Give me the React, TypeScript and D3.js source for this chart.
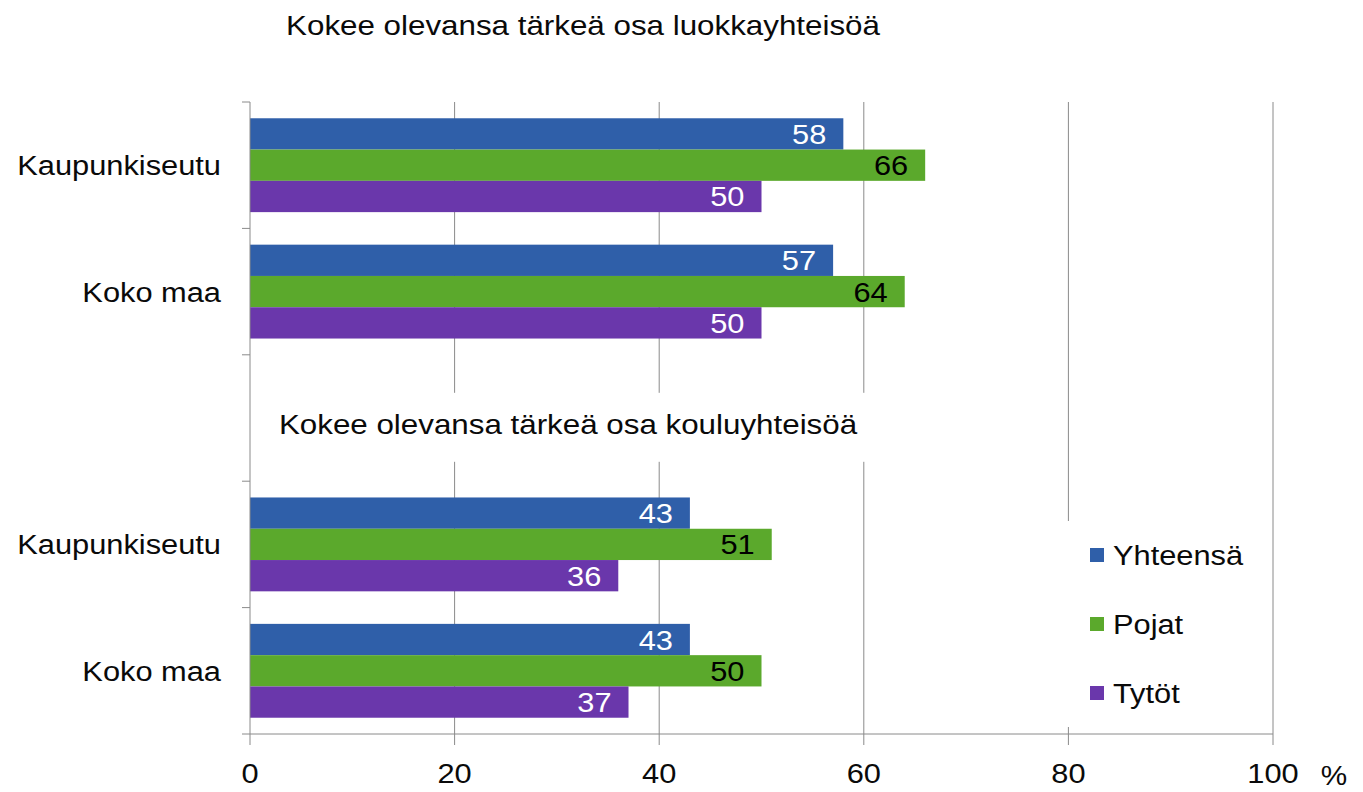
import React from "react";
import * as d3 from "d3";

const categories = ["Kaupunkiseutu", "Koko maa"];
const sectionTitles = [
  "Kokee olevansa tärkeä osa luokkayhteisöä",
  "Kokee olevansa tärkeä osa kouluyhteisöä",
];
const seriesNames = ["Yhteensä", "Pojat", "Tytöt"];
const seriesColors = ["#2f5fa9", "#5ba92c", "#6a37ab"];
const labelColors = ["#ffffff", "#000000", "#ffffff"];

const luokkaYhteensa = [58, 57];
const luokkaPojat = [66, 64];
const luokkaTytot = [50, 50];
const kouluYhteensa = [43, 43];
const kouluPojat = [51, 50];
const kouluTytot = [36, 37];

const xTicks = [0, 20, 40, 60, 80, 100];
const unitLabel = "%";

const W = 1363;
const H = 792;
const FONT = "'Liberation Sans', Arial, sans-serif";
const SX = 1.1;

const sections = [
  { title: sectionTitles[0], values: [luokkaYhteensa, luokkaPojat, luokkaTytot] },
  { title: sectionTitles[1], values: [kouluYhteensa, kouluPojat, kouluTytot] },
];

const rowKeys = ["s0-0", "s0-1", "gap", "s1-0", "s1-1"];

function T({ x, y, size, anchor = "start", fill = "#0a0a0a", children }: any) {
  return (
    <text
      transform={`translate(${x},${y}) scale(${SX},1)`}
      fontSize={size}
      fontFamily={FONT}
      textAnchor={anchor}
      fill={fill}
    >
      {children}
    </text>
  );
}

export default function App() {
  const x = d3.scaleLinear().domain([0, 100]).range([250, 1273]);
  const y = d3.scaleBand<string>().domain(rowKeys).range([102, 734]).padding(0);
  const inner = d3
    .scaleBand<string>()
    .domain(seriesNames)
    .range([0, y.bandwidth()])
    .paddingInner(0)
    .paddingOuter(0.52);

  const grid = "#8a8a8a";
  const bottom = y.range()[1];
  const top = y.range()[0];
  const yTicks = [...rowKeys.map((k) => y(k) as number), bottom];

  const bars: any[] = [];
  const dataLabels: any[] = [];
  const catLabels: any[] = [];
  sections.forEach((sec, si) => {
    categories.forEach((cat, ci) => {
      const key = `s${si}-${ci}`;
      const y0 = y(key) as number;
      catLabels.push(
        <T key={`c${key}`} x={221} y={y0 + y.bandwidth() / 2 + 10} size={28} anchor="end">
          {cat}
        </T>
      );
      seriesNames.forEach((s, k) => {
        const v = sec.values[k][ci];
        const by = y0 + (inner(s) as number);
        bars.push(
          <rect
            key={`b${key}${k}`}
            x={x(0)}
            y={by}
            width={x(v) - x(0)}
            height={inner.bandwidth()}
            fill={seriesColors[k]}
          />
        );
        dataLabels.push(
          <T
            key={`l${key}${k}`}
            x={x(v) - 17}
            y={by + inner.bandwidth() / 2 + 10}
            size={28}
            anchor="end"
            fill={labelColors[k]}
          >
            {v}
          </T>
        );
      });
    });
  });

  const gapY = y("gap") as number;

  return (
    <div style={{ position: "absolute", left: 0, top: 0, width: W, height: H, background: "#fff" }}>
      <svg width={W} height={H} style={{ display: "block" }}>
        <rect x={0} y={0} width={W} height={H} fill="#fff" />
        {/* gridlines */}
        {xTicks.slice(1).map((t) => (
          <line key={`g${t}`} x1={x(t)} x2={x(t)} y1={top} y2={bottom} stroke={grid} strokeWidth={1} />
        ))}
        {/* white box behind second section title */}
        <rect x={265} y={gapY + 38} width={610} height={69} fill="#fff" />
        {/* legend box */}
        <rect x={1052} y={521} width={212} height={206} fill="#fff" />
        {bars}
        {/* y axis */}
        <line x1={x(0)} x2={x(0)} y1={top} y2={bottom} stroke={grid} strokeWidth={1} />
        {yTicks.map((t, i) => (
          <line key={`yt${i}`} x1={x(0) - 8} x2={x(0)} y1={t} y2={t} stroke={grid} strokeWidth={1} />
        ))}
        {/* x axis */}
        <line x1={x(0)} x2={x(100)} y1={bottom} y2={bottom} stroke={grid} strokeWidth={1} />
        {xTicks.map((t) => (
          <line key={`xt${t}`} x1={x(t)} x2={x(t)} y1={bottom} y2={bottom + 11} stroke={grid} strokeWidth={1} />
        ))}
        {xTicks.map((t) => (
          <T key={`xl${t}`} x={x(t)} y={783} size={28} anchor="middle">
            {t}
          </T>
        ))}
        <T x={1334} y={785} size={27} anchor="middle">
          {unitLabel}
        </T>
        {catLabels}
        {dataLabels}
        {/* section titles */}
        <T x={583} y={35} size={28.5} anchor="middle">
          {sections[0].title}
        </T>
        <T x={568} y={gapY + 79} size={28.5} anchor="middle">
          {sections[1].title}
        </T>
        {/* legend */}
        {seriesNames.map((s, k) => {
          const cy = 555 + k * 69;
          return (
            <g key={`lg${s}`}>
              <rect x={1090} y={cy - 7} width={14} height={14} fill={seriesColors[k]} />
              <T x={1113} y={cy + 10} size={28}>
                {s}
              </T>
            </g>
          );
        })}
      </svg>
    </div>
  );
}
